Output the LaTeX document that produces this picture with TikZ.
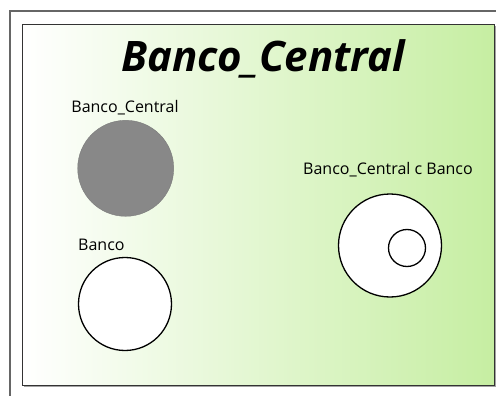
\documentclass[tikz,border=0pt]{standalone}
\usepackage{fontspec}
\setmainfont{Open Sans}
\usetikzlibrary{positioning,shadows}

\definecolor{setgreen}{RGB}{198,238,162}
\definecolor{setgray}{RGB}{136,136,136}

\begin{document}
\begin{tikzpicture}[
  x=1pt, y=-1pt,
  frame/.style={draw=black!80, line width=1.5pt, minimum width=472pt, minimum height=361pt,
    left color=white, right color=setgreen, inner sep=0pt,
    drop shadow={shadow xshift=1pt, shadow yshift=-1.5pt, fill=black!45, opacity=0.8}},
  title/.style={font=\fontsize{42}{48}\selectfont\bfseries\itshape, anchor=base, inner sep=0pt},
  setname/.style={font=\fontsize{16}{19}\selectfont, text=black, inner sep=0pt},
  set/.style={circle, draw=black, line width=1.3pt, fill=white, inner sep=0pt}
]
\useasboundingbox (0,0) rectangle (496,396);
\fill[white] (0,0) rectangle (496,396);
\draw[black!60, line width=1.5pt] (10,396) -- (10,11) -- (496,11);

\node[frame] (box) at (258.5,205) {};
\node[title] (heading) at (263,72) {Banco\_Central};

% sets
\node[set, draw=setgray!90!black, line width=0.4pt, fill=setgray, minimum size=96pt] (central) at (125.7,168.3) {};
\node[set, minimum size=93pt] (banco) at (125,304) {};
\node[set, minimum size=103pt] (outer) at (390,245.5) {};
\node[set, minimum size=37pt] (inner) at (407,248) {};

% names
\node[setname, anchor=base] (centralname) at (125,113) {Banco\_Central};
\node[setname, anchor=base west] (banconame) at (78,250.5) {Banco};
\node[setname, anchor=base] (subsetname) at (388,175) {Banco\_Central c Banco};
\end{tikzpicture}
\end{document}
